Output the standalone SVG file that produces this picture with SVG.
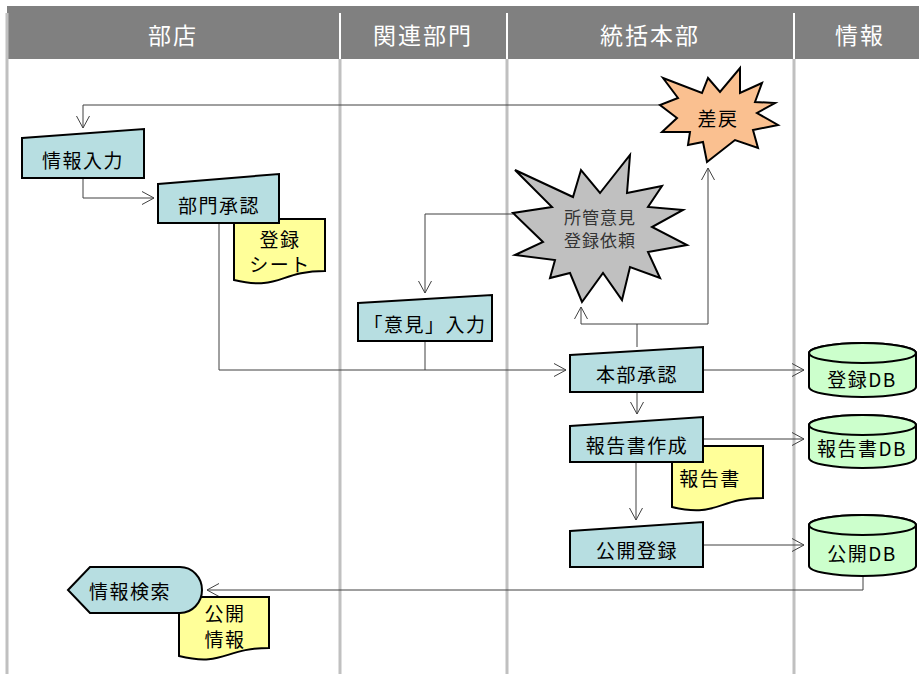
<svg xmlns="http://www.w3.org/2000/svg" width="919" height="674" viewBox="0 0 919 674">
<style>
text{font-family:"Noto Sans CJK JP","Liberation Sans",sans-serif;text-anchor:middle;dominant-baseline:central;fill:#000}
.hd{fill:#fff;font-size:23px;letter-spacing:2px}
.proc{fill:#b7dee1;stroke:#000;stroke-width:2;stroke-linejoin:miter}
.doc{fill:#ffff99;stroke:#000;stroke-width:2}
.db{fill:#ccffcc;stroke:#000;stroke-width:2}
.t{font-size:19px;letter-spacing:1.5px}
.st{font-size:17px;letter-spacing:1px;fill:#333}
.lane{stroke:#c0c0c0;stroke-width:3}
.cn{fill:none;stroke:#404040;stroke-width:1}
.ar{marker-end:url(#arr)}
</style>
<defs>
<marker id="arr" markerUnits="userSpaceOnUse" markerWidth="14" markerHeight="15" refX="12" refY="6.5" orient="auto" overflow="visible">
<path d="M0,0 L12,6.5 L0,13" fill="none" stroke="#404040" stroke-width="1"/>
</marker>
</defs>
<rect width="919" height="674" fill="#fff"/>
<g id="lanes">
<rect x="7" y="6" width="912" height="53" fill="#808080"/>
<line class="lane" x1="7" y1="13" x2="7" y2="674" stroke-width="2"/>
<line class="lane" x1="340" y1="59" x2="340" y2="674"/>
<line class="lane" x1="507" y1="59" x2="507" y2="674"/>
<line class="lane" x1="794" y1="59" x2="794" y2="674"/>
<line x1="340" y1="13" x2="340" y2="59" stroke="#fff" stroke-width="2"/>
<line x1="507" y1="13" x2="507" y2="59" stroke="#fff" stroke-width="2"/>
<line x1="794" y1="13" x2="794" y2="59" stroke="#fff" stroke-width="2"/>
<text class="hd" x="173" y="34">部店</text>
<text class="hd" x="423" y="34">関連部門</text>
<text class="hd" x="650" y="34">統括本部</text>
<text class="hd" x="860" y="34">情報</text>
</g>
<g id="connectors">
<path class="cn ar" d="M660,105 H83 V128"/>
<path class="cn ar" d="M83,178 V198 H154"/>
<path class="cn ar" d="M219,223 V370 H566"/>
<path class="cn" d="M425,341 V370"/>
<path class="cn ar" d="M513,214 H425 V293"/>
<path class="cn ar" d="M637,347 V324 H581 V307"/>
<path class="cn ar" d="M637,324 H708 V168"/>
<path class="cn ar" d="M637,392 V414"/>
<path class="cn ar" d="M636,462 V520"/>
<path class="cn ar" d="M703,370 H804"/>
<path class="cn ar" d="M703,439 H804"/>
<path class="cn ar" d="M703,545 H804"/>
<path class="cn ar" d="M863,576 V590 H207"/>
</g>
<g id="sashimodoshi">
<path d="M663,78 L702,93 L708,78 L720,92 L740,68 L740,93 L762,83 L755,102 L775,103 L757,113 L778,125 L753,130 L758,148 L735,140 L707,162 L703,142 L688,145 L690,132 L662,132 L677,118 L660,105 L678,98 Z" fill="#fac090" stroke="#000" stroke-width="2" stroke-linejoin="miter"/>
<text class="t" x="718" y="117">差戻</text>
</g>
<g id="shokan">
<path d="M515,170 L573,197 L581,170 L600,193 L630,155 L627,193 L662,186 L648,207 L683,210 L652,227 L687,245 L648,252 L660,278 L630,267 L622,300 L603,273 L582,302 L570,273 L550,278 L555,260 L515,255 L543,242 L513,213 L552,207 Z" fill="#c0c0c0" stroke="#000" stroke-width="2" stroke-linejoin="miter"/>
<text class="st" x="600" y="216">所管意見</text>
<text class="st" x="600" y="239">登録依頼</text>
</g>
<g id="joho-nyuryoku">
<polygon class="proc" points="22,138 144,129 144,178 22,178"/>
<text class="t" x="83" y="159">情報入力</text>
</g>
<g id="toroku-sheet">
<path class="doc" d="M234,219 H325 V271 C279.5,271 279.5,291 234,280 Z"/>
<text class="t" x="280" y="238">登録</text>
<text class="t" x="280" y="263">シート</text>
</g>
<g id="bumon-shonin">
<polygon class="proc" points="158,184 279,174 279,223 158,223"/>
<text class="t" x="219" y="204">部門承認</text>
</g>
<g id="iken-nyuryoku">
<polygon class="proc" points="358,303 492,295 492,341 358,341"/>
<text class="t" x="425" y="323" letter-spacing="0">「意見」入力</text>
</g>
<g id="honbu-shonin">
<polygon class="proc" points="570,355 703,347 703,392 570,392"/>
<text class="t" x="637" y="373">本部承認</text>
</g>
<g id="hokokusho">
<path class="doc" d="M672,446 H763 V498 C717.5,498 717.5,518 672,507 Z"/>
<text class="t" x="710" y="477">報告書</text>
</g>
<g id="hokokusho-sakusei">
<polygon class="proc" points="570,426 703,417 703,462 570,462"/>
<text class="t" x="637" y="444">報告書作成</text>
</g>
<g id="kokai-toroku">
<polygon class="proc" points="570,531 703,522 703,567 570,567"/>
<text class="t" x="637" y="549">公開登録</text>
</g>
<g id="toroku-db">
<path class="db" d="M809,353 A53.5,10 0 0 1 916,353 V387 A53.5,10 0 0 1 809,387 Z"/>
<ellipse class="db" cx="862.5" cy="353" rx="53.5" ry="10"/>
<text class="t" x="862" y="378">登録DB</text>
</g>
<g id="hokokusho-db">
<path class="db" d="M809,425 A53.5,10 0 0 1 916,425 V458 A53.5,10 0 0 1 809,458 Z"/>
<ellipse class="db" cx="862.5" cy="425" rx="53.5" ry="10"/>
<text class="t" x="862" y="447" letter-spacing="0.5">報告書DB</text>
</g>
<g id="kokai-db">
<path class="db" d="M809,525 A53.5,10 0 0 1 916,525 V566 A53.5,10 0 0 1 809,566 Z"/>
<ellipse class="db" cx="862.5" cy="525" rx="53.5" ry="10"/>
<text class="t" x="862" y="552">公開DB</text>
</g>
<g id="kokai-joho">
<path class="doc" d="M179,597 H269 V648 C224,648 224,667 179,656 Z"/>
<text class="t" x="225" y="612">公開</text>
<text class="t" x="225" y="638">情報</text>
</g>
<g id="joho-kensaku">
<path class="proc" d="M68,590 L90,567 H180 A22,23 0 0 1 180,613 H90 Z"/>
<text class="t" x="130" y="590">情報検索</text>
</g>
</svg>
